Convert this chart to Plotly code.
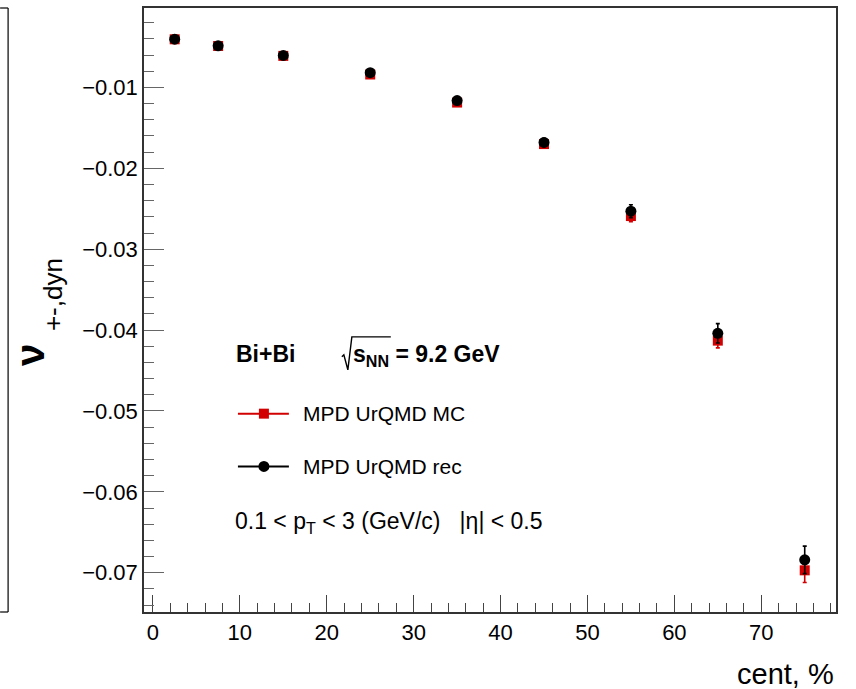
import plotly.graph_objects as go

# ---- data ----
cent = [2.5, 7.5, 15, 25, 35, 45, 55, 65, 75]
mc_vals = [-0.00405, -0.00488, -0.0061, -0.0084, -0.01187, -0.0170, -0.0259, -0.0413, -0.0697]
mc_errs = [0.0002, 0.0002, 0.0003, 0.0003, 0.0004, 0.0005, 0.0007, 0.0009, 0.0015]
rec_vals = [-0.00403, -0.00486, -0.00605, -0.00818, -0.01163, -0.0168, -0.0253, -0.0404, -0.0684]
rec_errs = [0.0002, 0.0002, 0.0003, 0.0003, 0.0004, 0.0005, 0.0008, 0.0012, 0.0017]
y_tickvals = [-0.07, -0.06, -0.05, -0.04, -0.03, -0.02, -0.01]
y_ticktext = ["\u22120.07", "\u22120.06", "\u22120.05", "\u22120.04", "\u22120.03", "\u22120.02", "\u22120.01"]
x_tickvals = [0, 10, 20, 30, 40, 50, 60, 70]

RED = "#d20000"
FONT = "Liberation Sans, Arial, sans-serif"

W, H = 856, 689
L, R, T, B = 144, 19.5, 6, 77
PW, PH = W - L - R, H - T - B


def px(xp):
    return (xp - L) / PW


def py(yp):
    return (H - B - yp) / PH


fig = go.Figure()
fig.add_trace(go.Scatter(
    x=cent, y=mc_vals, mode="markers", name="MPD UrQMD MC",
    marker=dict(symbol="square", size=10, color=RED),
    error_y=dict(type="data", array=mc_errs, color=RED, thickness=1.6, width=2),
    showlegend=False))
fig.add_trace(go.Scatter(
    x=cent, y=rec_vals, mode="markers", name="MPD UrQMD rec",
    marker=dict(symbol="circle", size=11, color="black"),
    error_y=dict(type="data", array=rec_errs, color="black", thickness=1.6, width=2),
    showlegend=False))

shapes = []
# left neighbouring pad border
for (x0, y0, x1, y1) in [(0, 6, 8, 6), (8, 6, 8, 612), (0, 612, 8, 612)]:
    shapes.append(dict(type="line", xref="paper", yref="paper",
                       x0=px(x0), x1=px(x1), y0=py(y0), y1=py(y1),
                       line=dict(color="black", width=1.2)))
# legend lines and symbols
ly1, ly2 = 413, 466
shapes.append(dict(type="line", xref="paper", yref="paper", x0=px(238), x1=px(289),
                   y0=py(ly1), y1=py(ly1), line=dict(color=RED, width=2)))
shapes.append(dict(type="rect", xref="paper", yref="paper", x0=px(259), x1=px(269),
                   y0=py(ly1 + 5), y1=py(ly1 - 5), fillcolor=RED, line=dict(width=0)))
shapes.append(dict(type="line", xref="paper", yref="paper", x0=px(238), x1=px(289),
                   y0=py(ly2), y1=py(ly2), line=dict(color="black", width=2)))
shapes.append(dict(type="circle", xref="paper", yref="paper", x0=px(258.5), x1=px(269.5),
                   y0=py(ly2 + 5.5), y1=py(ly2 - 5.5), fillcolor="black", line=dict(width=0)))
# radical sign with overline
pts = [(342, 356), (344, 354), (348, 369), (352, 336), (391, 336)]
path = "M " + " L ".join(f"{px(a):.5f},{py(b):.5f}" for a, b in pts)
shapes.append(dict(type="path", xref="paper", yref="paper", path=path,
                   line=dict(color="black", width=1.4)))

ann = []
ann.append(dict(text="<b>Bi+Bi</b>", x=px(234), y=py(353), xanchor="left", yanchor="middle",
                font=dict(size=23, color="black", family=FONT)))
ann.append(dict(text="<b>s<sub>NN</sub> = 9.2 GeV</b>", x=px(351), y=py(355), xanchor="left",
                yanchor="middle", font=dict(size=23, color="black", family=FONT)))
ann.append(dict(text="MPD UrQMD MC", x=px(301), y=py(ly1), xanchor="left", yanchor="middle",
                font=dict(size=21, color="black", family=FONT)))
ann.append(dict(text="MPD UrQMD rec", x=px(301), y=py(ly2), xanchor="left", yanchor="middle",
                font=dict(size=21, color="black", family=FONT)))
ann.append(dict(text="0.1 &lt; p<sub>T</sub> &lt; 3 (GeV/c) &nbsp;&nbsp;|\u03b7| &lt; 0.5", x=px(233), y=py(522),
                xanchor="left", yanchor="middle", font=dict(size=23, color="black", family=FONT)))
# axis titles
ann.append(dict(text="cent, %", x=px(837), y=py(674), xanchor="right", yanchor="middle",
                font=dict(size=29, color="black", family=FONT)))
ann.append(dict(text="<b>\u03bd</b>", x=px(30), y=py(354), xanchor="center", yanchor="middle",
                textangle=-90, font=dict(size=40, color="black", family=FONT)))
ann.append(dict(text="+-,dyn", x=px(53), y=py(294), xanchor="center", yanchor="middle",
                textangle=-90, font=dict(size=26, color="black", family=FONT)))
for a in ann:
    a.update(xref="paper", yref="paper", showarrow=False)

fig.update_layout(
    width=W, height=H,
    margin=dict(l=L, r=R, t=T, b=B, pad=0),
    paper_bgcolor="white", plot_bgcolor="white",
    font=dict(family=FONT, color="black"),
    showlegend=False,
    shapes=shapes, annotations=ann,
    xaxis=dict(range=[-1.03, 78.6], tickvals=x_tickvals, ticks="inside", ticklen=17,
               tickwidth=1.3, tickcolor="#444", showline=True, linecolor="#333", linewidth=1.5,
               mirror=True, showgrid=False, zeroline=False,
               tickfont=dict(size=22, family=FONT, color="black"),
               minor=dict(ticks="inside", dtick=2, ticklen=9, tickwidth=1.2, tickcolor="#444", showgrid=False)),
    yaxis=dict(range=[-0.07485, -0.00018], tickvals=y_tickvals, ticktext=y_ticktext, ticks="inside",
               ticklen=20, tickwidth=1.3, tickcolor="#666", showline=True, linecolor="#333", linewidth=1.5,
               mirror=True, showgrid=False, zeroline=False,
               tickfont=dict(size=22, family=FONT, color="black"),
               minor=dict(ticks="inside", tick0=0, dtick=0.002, ticklen=10, tickwidth=1.2,
                          tickcolor="#666", showgrid=False)),
)

fig.write_html("out.html", config={"displayModeBar": False},
               post_script="document.body.style.margin='0';")
